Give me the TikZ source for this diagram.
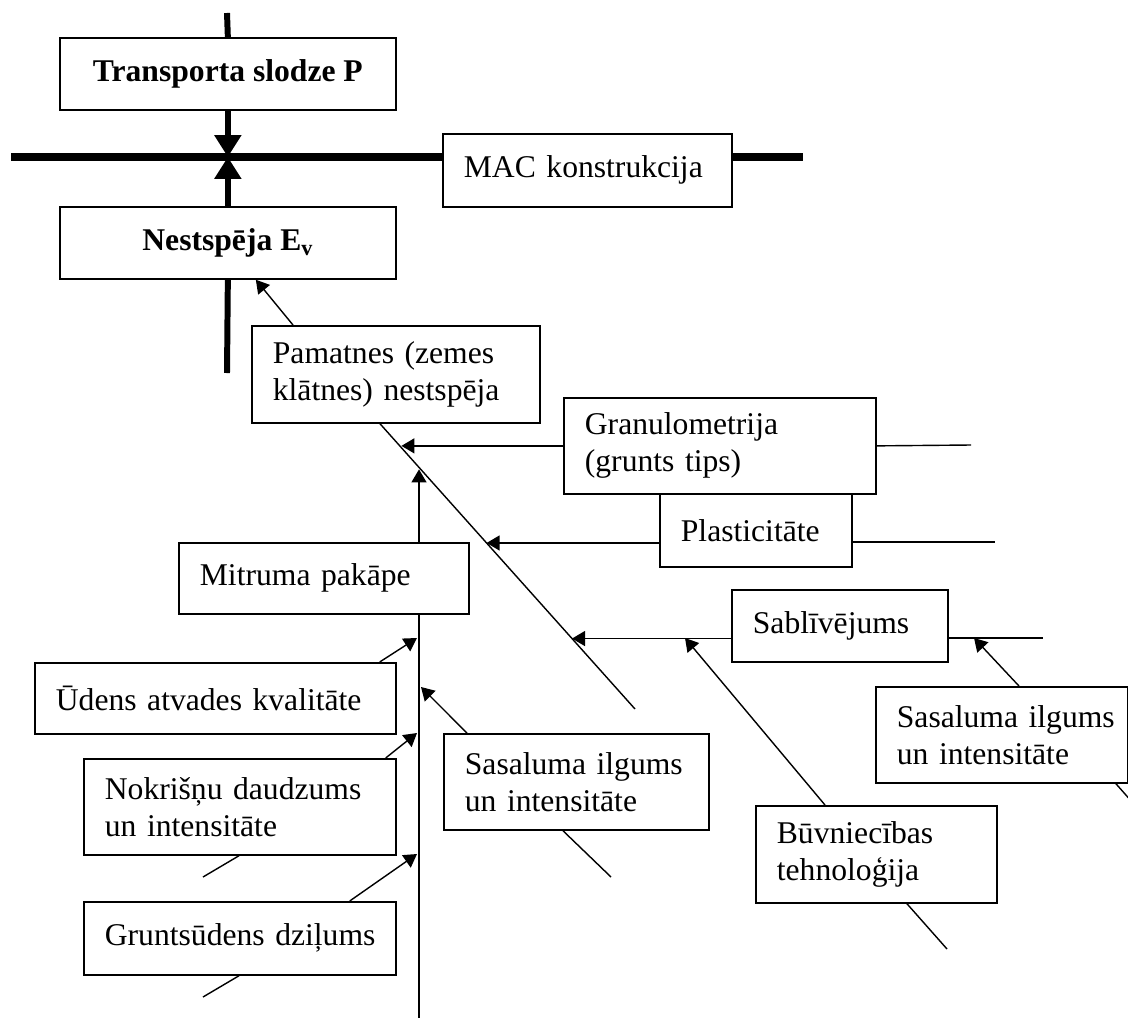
\documentclass[tikz,border=0pt]{standalone}
\usepackage{fontspec}
\setmainfont{Liberation Serif}
\usetikzlibrary{arrows.meta,calc}

\begin{document}
\begin{tikzpicture}[
x=0.02cm,y=-0.02cm,
font=\fontsize{18}{21}\selectfont,
bbox/.style={draw,line width=1pt,anchor=north west,align=center,
font=\fontsize{18}{21}\selectfont\bfseries,
minimum width=6.72cm,minimum height=1.44cm,inner sep=0pt},
box/.style 2 args={draw,line width=1pt,anchor=north west,align=left,
inner xsep=0.1cm,inner ysep=0pt,text width=#1-0.2cm,minimum height=#2,
execute at begin node={\leftskip=0.32cm\hyphenpenalty=10000}},
bar/.style={line width=3.4pt},
hbar/.style={line width=4.5pt},
barr/.style={bar,-{Triangle[length=0.44cm,width=0.52cm]}},
ln/.style={line width=0.8pt},
arr/.style={ln,-{Triangle[length=0.26cm,width=0.3cm]}}
]
\path[use as bounding box,clip] (0,0) rectangle (1128,1017);

% main boxes
\node[bbox] (tr) at (59,37) {Transporta slodze P};
\node[bbox] (ev) at (59,206) {Nestspēja E\textsubscript{v}};
\node[box={5.78cm}{1.46cm}] (mac) at (442,133) {MAC konstrukcija};

% factors
\node[box={5.76cm}{1.94cm}] (pam) at (251,325) {Pamatnes (zemes\\klātnes) nestspēja};
\node[box={6.24cm}{1.92cm}] (gran) at (563,397) {Granulometrija\\(grunts tips)};
\node[box={3.84cm}{1.46cm}] (plast) at (659,493) {Plasticitāte};
\node[box={5.80cm}{1.42cm}] (mit) at (178,542) {Mitruma pakāpe};
\node[box={4.32cm}{1.44cm}] (sabl) at (731,589) {Sablīvējums};
\node[box={7.22cm}{1.42cm}] (uden) at (34,662) {Ūdens atvades kvalitāte};
\node[box={5.30cm}{1.92cm}] (sasl) at (443,733) {Sasaluma ilgums\\un intensitāte};
\node[box={5.04cm}{1.92cm}] (sasr) at (875,686) {Sasaluma ilgums\\un intensitāte};
\node[box={6.24cm}{1.92cm}] (nok) at (83,758) {Nokrišņu daudzums\\un intensitāte};
\node[box={4.82cm}{1.94cm}] (buv) at (755,805) {Būvniecības\\tehnoloģija};
\node[box={6.24cm}{1.46cm}] (grunt) at (83,901) {Gruntsūdens dziļums};

% thick axis
\coordinate (top) at (227,13);
\coordinate (bot) at (227,373);
\coordinate (hl) at (11,157);
\coordinate (hr) at (803,157);
\coordinate (j) at (tr.south |- hl);
\draw[bar] (top) -- (tr.north);
\draw[barr] (tr.south) -- (j);
\draw[barr] (ev.north) -- (j);
\draw[bar] (ev.south) -- (bot);
\draw[hbar] (hl) -- (mac.west |- hl);
\draw[hbar] (mac.east |- hl) -- (hr);

% slanted spine
\coordinate (sp) at ($(pam.south west)+(129,0)$);
\coordinate (se) at (635,709);
\coordinate (g1) at ($(sp)!0.084!(se)$);
\coordinate (p1) at ($(sp)!0.418!(se)$);
\coordinate (s1) at ($(sp)!0.753!(se)$);
\coordinate (m1) at ($(sp)!0.16!(se)$);
\draw[ln] (sp) -- (se);
\draw[arr] ([xshift=0.84cm]pam.north west) -- ([xshift=0.56cm]ev.south);

\coordinate (gr) at (971,445);
\coordinate (pr) at (995,542);
\coordinate (sr) at (1043,638);
\draw[arr] (gran.west) -- (g1 |- gran.west);
\draw[ln] (gran.east) -- (gr);
\draw[arr] (plast.west |- p1) -- (p1);
\draw[ln] (plast.east |- pr) -- (pr);
\draw[arr] (sabl.west |- s1) -- (s1);
\draw[ln] (sabl.east |- sr) -- (sr);

% into Sablivejums branch
\coordinate (b1) at (685,638);
\coordinate (r1) at (974,638);
\coordinate (bt) at (947,949);
\coordinate (rt) at (1140,811);
\draw[arr] ([xshift=1.4cm]buv.north west) -- (b1);
\draw[ln] ([xshift=3.04cm]buv.south west) -- (bt);
\draw[arr] ([xshift=2.88cm]sasr.north west) -- (r1);
\draw[ln] ([xshift=4.82cm]sasr.south west) -- (rt);

% moisture branch
\coordinate (vb) at (419,1020);
\draw[ln] (vb |- mit.south) -- (vb);
\draw[arr] (vb |- mit.north) -- (vb |- m1);

\coordinate (u1) at (417,638);
\coordinate (n1) at (417,733);
\coordinate (k1) at (417,854);
\coordinate (l1) at (421,687);
\coordinate (nt) at (203,877);
\coordinate (gt) at (203,997);
\coordinate (lt) at (611,877);
\draw[arr] ([xshift=-0.34cm]uden.north east) -- (u1);
\draw[arr] ([xshift=-0.22cm]nok.north east) -- (n1);
\draw[ln] ([xshift=3.12cm]nok.south west) -- (nt);
\draw[arr] ([xshift=-0.94cm]grunt.north east) -- (k1);
\draw[ln] ([xshift=3.12cm]grunt.south west) -- (gt);
\draw[arr] ([xshift=0.48cm]sasl.north west) -- (l1);
\draw[ln] ([xshift=2.4cm]sasl.south west) -- (lt);
\end{tikzpicture}
\end{document}
